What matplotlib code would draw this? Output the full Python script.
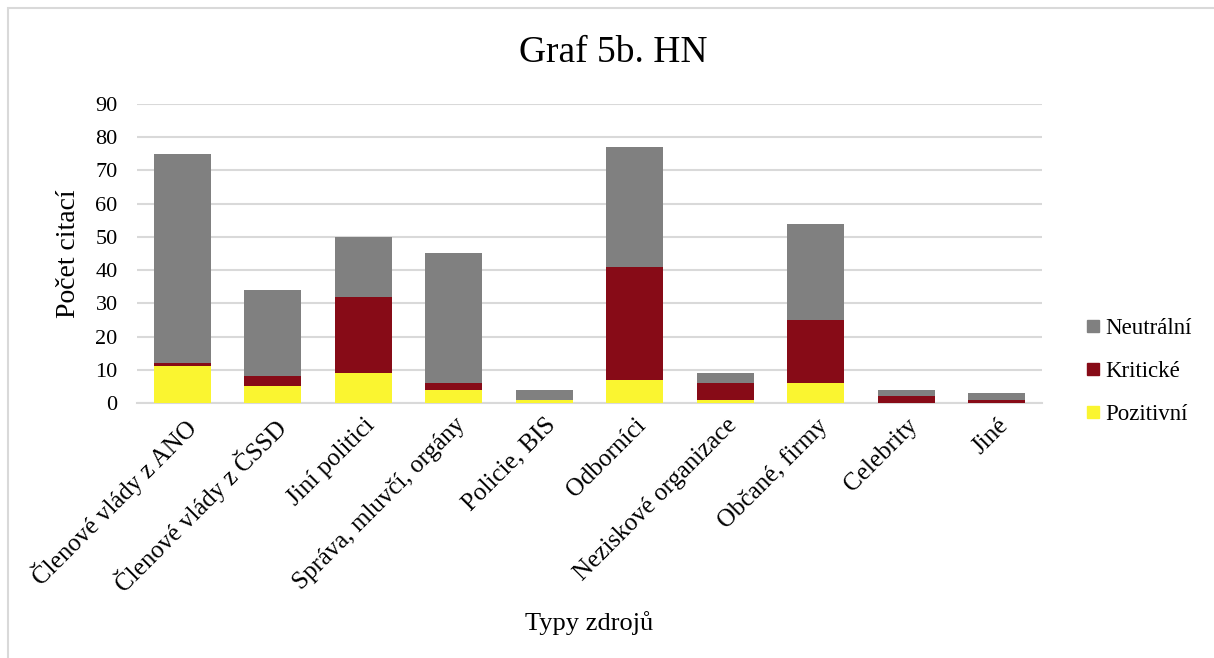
import matplotlib.pyplot as plt
from matplotlib.patches import Rectangle
from matplotlib.lines import Line2D

OUTPUT_PLOT = "out.png"

categories = [
    "Členové vlády z ANO", "Členové vlády z ČSSD", "Jiní politici",
    "Správa, mluvčí, orgány", "Policie, BIS", "Odborníci",
    "Neziskové organizace", "Občané, firmy", "Celebrity", "Jiné",
]
pozitivni = [11, 5, 9, 4, 1, 7, 1, 6, 0, 0]
kriticke  = [1, 3, 23, 2, 0, 34, 5, 19, 2, 1]
neutralni = [63, 26, 18, 39, 3, 36, 3, 29, 2, 2]

C_POS  = "#FAF530"
C_KRIT = "#870B17"
C_NEUT = "#808080"
GRID   = "#D9D9D9"

plt.rcParams["font.family"] = ["Liberation Serif", "DejaVu Serif"]

fig = plt.figure(figsize=(12.14, 6.58), dpi=100)
ax = fig.add_axes([0.1129, 0.3875, 0.7455, 0.4545])

x = range(len(categories))
w = 0.63
ax.bar(x, pozitivni, w, color=C_POS, zorder=3)
ax.bar(x, kriticke, w, bottom=pozitivni, color=C_KRIT, zorder=3)
base = [p + k for p, k in zip(pozitivni, kriticke)]
ax.bar(x, neutralni, w, bottom=base, color=C_NEUT, zorder=3)

ax.set_xlim(-0.5, len(categories) - 0.5)
ax.set_ylim(0, 90)
ax.set_yticks(range(0, 91, 10))
ax.yaxis.grid(True, color=GRID, linewidth=1.5, zorder=0)
ax.set_axisbelow(True)
for s in ["top", "right", "left"]:
    ax.spines[s].set_visible(False)
ax.spines["bottom"].set_color(GRID)
ax.spines["bottom"].set_linewidth(1.5)
ax.tick_params(length=0, colors="#000000")
ax.tick_params(axis="y", pad=14, labelsize=16)
ax.tick_params(axis="x", pad=8, labelsize=18)
ax.set_xticks(list(x))
ax.set_xticklabels(categories, rotation=45, ha="right", rotation_mode="anchor")

ax.set_ylabel("Počet citací", fontsize=20, labelpad=10)
ax.set_xlabel("Typy zdrojů", fontsize=19)
ax.xaxis.set_label_coords(0.5, -0.695)

fig.text(0.505, 0.92, "Graf 5b. HN", ha="center", va="center", fontsize=27)

handles = [
    Line2D([], [], marker="s", linestyle="none", color=C_NEUT, markersize=8),
    Line2D([], [], marker="s", linestyle="none", color=C_KRIT, markersize=8),
    Line2D([], [], marker="s", linestyle="none", color=C_POS, markersize=8),
]
fig.legend(handles, ["Neutrální", "Kritické", "Pozitivní"],
           loc="center left", bbox_to_anchor=(0.874, 0.435), frameon=False,
           fontsize=16.5, handletextpad=0.05, labelspacing=0.95, handlelength=1.0)

# light frame round the chart
fig.patches.append(Rectangle((0.007, -0.01), 1.0, 0.998, transform=fig.transFigure,
                             fill=False, edgecolor=GRID, linewidth=1.5))

fig.savefig(OUTPUT_PLOT, dpi=100)
